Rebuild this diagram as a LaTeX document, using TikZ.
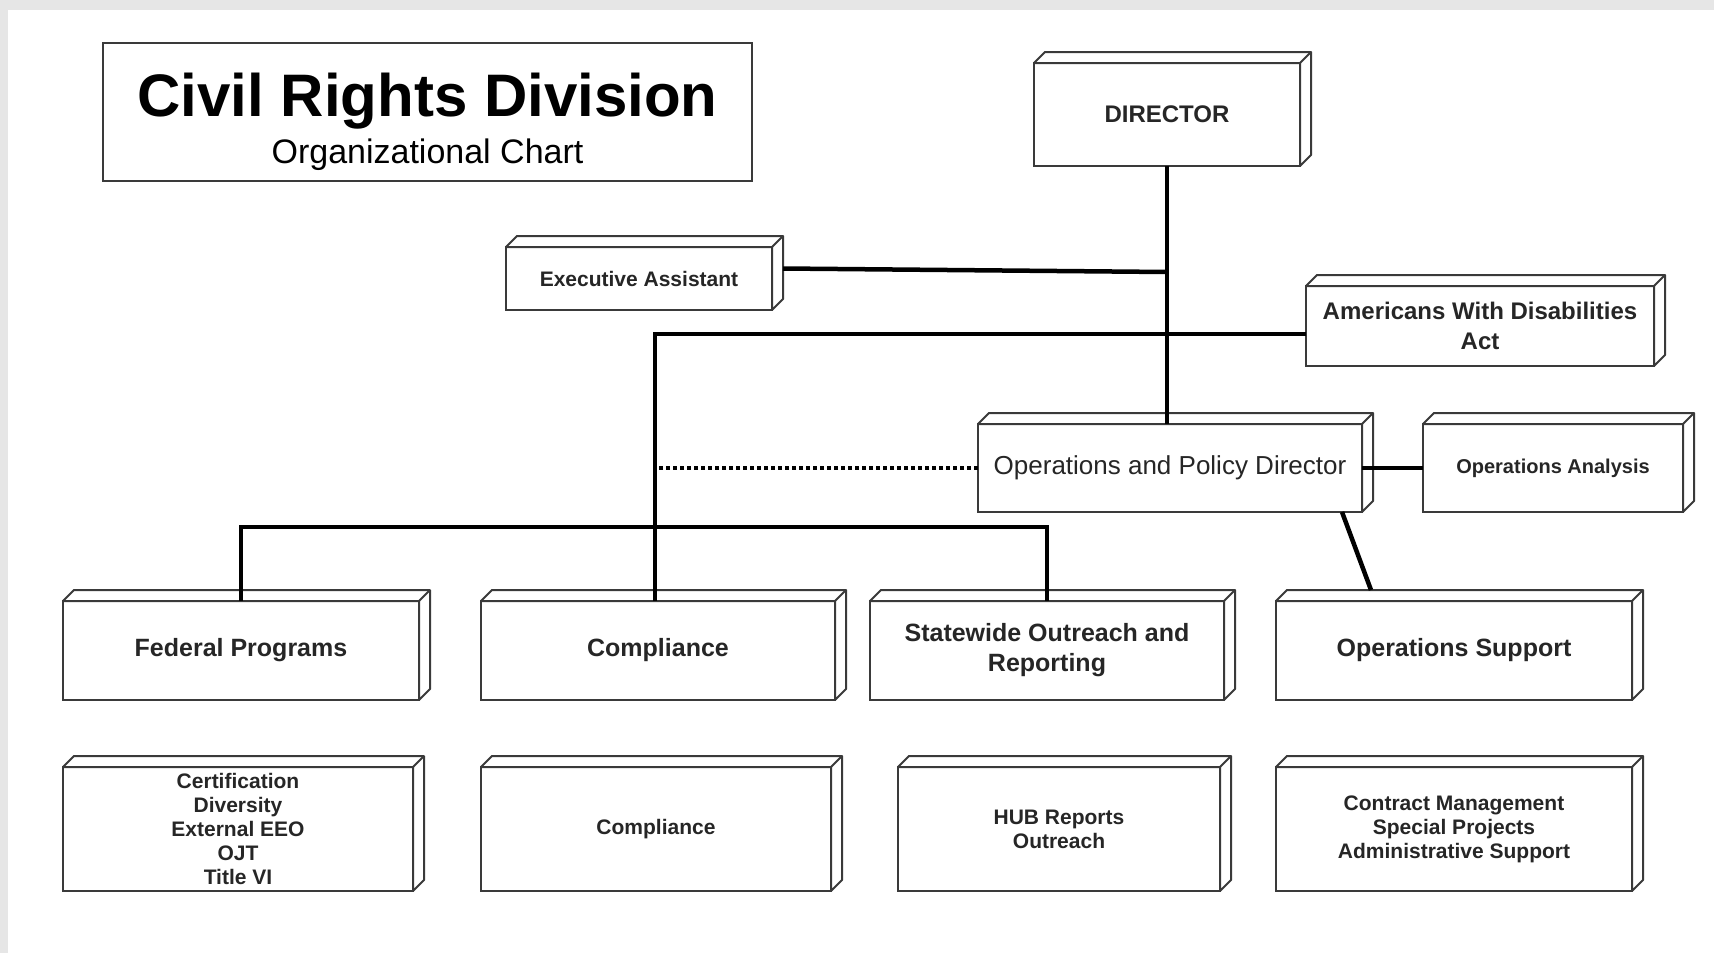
\documentclass[tikz,border=0pt]{standalone}
\usepackage{fontspec}
\setmainfont{Liberation Sans}
\definecolor{boxc}{HTML}{3A3A3A}
\definecolor{bggray}{HTML}{E6E6E6}
\newcommand{\extrude}[1]{%
  \draw[boxline, fill=white] (#1.north west) -- ++(11,-11) -- ([shift={(11,-11)}]#1.north east) -- ([shift={(11,-11)}]#1.south east) -- (#1.south east) -- (#1.north east) -- cycle;
  \draw[boxline] (#1.north east) -- ++(11,-11);}
\begin{document}
\begin{tikzpicture}[x=1pt,y=-1pt,
  boxline/.style={draw=boxc, line width=2pt, line join=round},
  box/.style={draw=boxc, line width=2pt, fill=white, inner sep=0pt, outer sep=0pt, align=center, text=black!85},
  fbig/.style={font=\fontsize{25}{30}\selectfont\bfseries},
  fsmall/.style={font=\fontsize{21}{24}\selectfont\bfseries},
  conn/.style={line width=4.5pt, black},
  dotline/.style={line width=4.5pt, black, dash pattern=on 4pt off 3pt}]
\useasboundingbox (0,0) rectangle (1714,953);
\fill[bggray] (0,0) rectangle (1714,953);
\fill[white] (8,10) rectangle (1714,953);

% title
\node[draw=boxc, line width=2pt, fill=white, minimum width=649pt, minimum height=138pt, inner sep=0pt] (title) at (427.5,112) {};
\node[font=\fontsize{60}{60}\selectfont\bfseries, inner sep=0pt] (titleA) at (427.5,101) {Civil Rights Division};
\node[font=\fontsize{34}{40}\selectfont, inner sep=0pt] (titleB) at (427.5,155) {Organizational Chart};

% boxes
\node[box, minimum width=266pt, minimum height=103pt, font=\fontsize{24}{28}\selectfont\bfseries] (dir) at (1167,114.5) {DIRECTOR};
\extrude{dir}
\node[box, minimum width=266pt, minimum height=63pt, fsmall] (exec) at (639,278.5) {Executive Assistant};
\extrude{exec}
\node[box, minimum width=348pt, minimum height=80pt, font=\fontsize{24}{30}\selectfont\bfseries] (ada) at (1480,326) {Americans With Disabilities\\Act};
\extrude{ada}
\node[box, minimum width=384pt, minimum height=88pt, font=\fontsize{26}{30}\selectfont] (opd) at (1170,468) {Operations and Policy Director};
\extrude{opd}
\node[box, minimum width=260pt, minimum height=88pt, font=\fontsize{20}{24}\selectfont\bfseries] (opa) at (1553,468) {Operations Analysis};
\extrude{opa}
\node[box, minimum width=356pt, minimum height=99pt, fbig] (fed) at (241,650.5) {Federal Programs};
\extrude{fed}
\node[box, minimum width=354pt, minimum height=99pt, fbig] (comp) at (658,650.5) {Compliance};
\extrude{comp}
\node[box, minimum width=354pt, minimum height=99pt, fbig] (sor) at (1047,650.5) {Statewide Outreach and\\Reporting};
\extrude{sor}
\node[box, minimum width=356pt, minimum height=99pt, fbig] (ops) at (1454,650.5) {Operations Support};
\extrude{ops}

\node[box, minimum width=350pt, minimum height=124pt, fsmall] (fedsub) at (238,829) {Certification\\Diversity\\External EEO\\OJT\\Title VI};
\extrude{fedsub}
\node[box, minimum width=350pt, minimum height=124pt, fsmall] (compsub) at (656,829) {Compliance};
\extrude{compsub}
\node[box, minimum width=322pt, minimum height=124pt, fsmall] (hub) at (1059,829) {HUB Reports\\Outreach};
\extrude{hub}
\node[box, minimum width=356pt, minimum height=124pt, fsmall] (csub) at (1454,829) {Contract Management\\Special Projects\\Administrative Support};
\extrude{csub}

% connectors
\coordinate (vx) at (655,334);
\draw[conn] (dir.south) -- (dir.south |- opd.north);
\draw[conn] ([shift={(11,-10)}]exec.east) -- (1167,272);
\draw[conn] ([yshift=-8pt]ada.west) -- (vx) -- (vx |- comp.north);
\draw[dotline] (opd.west) -- (opd.west -| vx);
\draw[conn] (fed.north) -- ++(0,-74) -| (sor.north);
\draw[conn] (opd.east) -- (opa.west);
\draw[conn] ([xshift=-20pt]opd.south east) -- ([shift={(95,-11)}]ops.north west);
\end{tikzpicture}
\end{document}
